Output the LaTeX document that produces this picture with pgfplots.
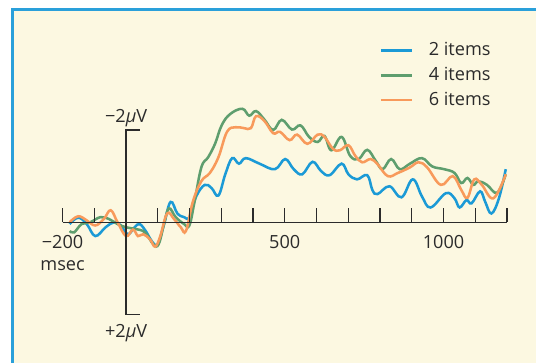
\documentclass[border=0pt]{standalone}
\usepackage{pgfplots}
\pgfplotsset{compat=1.18}
\usepackage{fontspec}
\setmainfont{Open Sans}
\definecolor{cblue}{HTML}{1B9AD6}
\definecolor{cgreen}{HTML}{5E9E6E}
\definecolor{corange}{HTML}{F89A5B}
\definecolor{cream}{HTML}{FCF8E1}
\definecolor{border}{HTML}{2AA0DA}
\definecolor{axisgray}{HTML}{2B2B2B}
\begin{document}
\fontsize{13.6}{16}\selectfont
\begin{tikzpicture}
\useasboundingbox (0pt,0pt) rectangle (402pt,272.25pt);
\fill[white] (0pt,0pt) rectangle (402pt,272.25pt);
\fill[cream] (9.375pt,0pt) rectangle (402pt,265.2pt);
\draw[border, line width=1.8pt] (9.375pt,-2pt) -- (9.375pt,265.2pt) -- (404pt,265.2pt);
\begin{axis}[
  at={(46.95pt,36.375pt)}, anchor=south west,
  scale only axis, width=333.3pt, height=138.375pt,
  xmin=-200, xmax=1200, ymin=-2, ymax=2,
  axis lines=none, clip=false,
  legend style={at={(0.713,1.49)}, anchor=north west, draw=none, fill=none,
    inner sep=0pt, row sep=2.6pt, font=\fontsize{13.6}{16}\selectfont,
    cells={anchor=west}, text=axisgray,
    /tikz/every odd column/.style={column sep=10pt}},
  legend image code/.code={\draw[#1] (0pt,0pt) -- (22.9pt,0pt);},
  every axis plot/.append style={line width=1.9pt, smooth, tension=0.65, no marks},
]
\addplot[cblue] coordinates {
(-177.8,-0.04) (-150.9,0.10) (-123.9,-0.04) (-97.0,-0.30) (-64.7,-0.11) (-37.7,0) (-16.2,-0.07)
(5.4,-0.26) (26.9,-0.11) (43.1,-0.04) (64.7,-0.22) (80.8,-0.41) (99.1,-0.48) (118.5,-0.07)
(140.1,0.44) (161.6,0.19) (183.2,0.11) (199.4,0.11) (220.9,0.56) (247.8,0.81) (269.4,0.74)
(290.9,0.58) (312.5,1.04) (334.1,1.39) (355.6,1.27) (377.2,1.39) (420.3,1.27) (468.8,1.15)
(501.1,1.37) (528.0,1.15) (555.0,1.04) (587.3,1.31) (614.2,1.11) (641.2,1.02) (678.9,1.27)
(700.4,1.04) (727.4,0.93) (759.7,1.02) (775.9,0.70) (792.0,0.61) (829.7,0.78) (867.5,0.54)
(903.0,0.93) (932.1,0.56) (959.1,0.32) (1007.5,0.63) (1034.5,0.52) (1050.6,0.32) (1072.2,0.48)
(1088.4,0.41) (1115.3,0.67) (1131.5,0.44) (1150.9,0.19) (1174.6,0.52) (1196.1,1.15)
};
\addlegendentry{2 items}
\addplot[cgreen] coordinates {
(-177.8,-0.19) (-163.8,-0.22) (-140.1,-0.04) (-113.1,0) (-80.8,0.11) (-53.9,0.07) (-26.9,-0.04)
(0,-0.11) (32.3,-0.15) (59.3,-0.22) (86.2,-0.48) (102.4,-0.48) (118.5,-0.07) (134.7,0.30)
(156.3,0.11) (183.2,-0.04) (199.4,-0.07) (215.5,0.44) (237.1,1.19) (258.6,1.41) (280.2,1.70)
(301.7,2.11) (328.7,2.35) (366.4,2.46) (387.9,2.31) (409.5,2.41) (436.4,2.22) (463.4,2.0)
(490.3,2.22) (522.6,2.01) (549.6,2.10) (576.5,1.85) (603.4,1.74) (625.0,1.87) (646.6,1.56)
(678.9,1.85) (705.8,1.44) (732.8,1.37) (759.7,1.57) (786.6,1.33) (808.2,1.15) (835.1,1.37)
(862.1,1.15) (894.4,1.27) (932.1,1.39) (964.4,1.21) (1002.2,1.15) (1034.5,1.07) (1056.0,0.85)
(1075.4,0.96) (1093.8,0.81) (1109.9,0.89) (1136.9,0.81) (1169.2,0.64) (1196.1,1.04)
};
\addlegendentry{4 items}
\addplot[corange] coordinates {
(-177.8,0) (-150.9,0.13) (-123.9,0.04) (-97.0,-0.07) (-70.0,0.07) (-48.5,0.26) (-26.9,0)
(0,-0.30) (21.6,-0.16) (37.7,-0.30) (53.9,-0.26) (75.4,-0.37) (91.6,-0.53) (107.8,-0.30)
(129.3,0.19) (150.9,0.07) (172.4,-0.11) (188.6,-0.19) (210.1,0.44) (237.1,0.89) (264.0,1.07)
(290.9,1.41) (317.9,1.96) (344.8,2.06) (371.8,2.04) (393.3,2.04) (409.5,2.30) (436.4,2.19)
(463.4,1.93) (484.9,1.96) (515.1,1.78) (538.8,1.90) (571.1,1.70) (603.4,1.90) (625.0,1.85)
(651.9,1.59) (673.5,1.56) (700.4,1.67) (722.0,1.44) (743.5,1.30) (770.5,1.37) (792.0,1.26)
(824.4,1.00) (856.7,1.07) (894.4,1.19) (921.3,1.30) (948.3,1.19) (991.4,0.81) (1029.1,1.00)
(1056.0,0.70) (1075.4,0.53) (1097.0,0.93) (1120.7,0.81) (1157.3,0.52) (1196.1,1.04)
};
\addlegendentry{6 items}
% axes
\draw[axisgray, line width=0.9pt] (axis cs:-200,0) -- (axis cs:1200,0);
\pgfplotsinvokeforeach{-200,-100,...,1200}{\draw[axisgray, line width=0.9pt] (axis cs:#1,0) -- (axis cs:#1,0.30);}
\draw[axisgray, line width=0.9pt] (axis cs:43,2) -- (axis cs:0,2) -- (axis cs:0,-2) -- (axis cs:43,-2);
\node[text=axisgray] at (axis cs:0,2.26) {−2{\itshape µ}V};
\node[text=axisgray] at (axis cs:0,-2.41) {+2{\itshape µ}V};
\node[text=axisgray] at (axis cs:-200,-0.43) {−200};
\node[text=axisgray] at (axis cs:-200,-0.95) {msec};
\node[text=axisgray] at (axis cs:500,-0.43) {500};
\node[text=axisgray] at (axis cs:1000,-0.43) {1000};
\end{axis}
\end{tikzpicture}
\end{document}
